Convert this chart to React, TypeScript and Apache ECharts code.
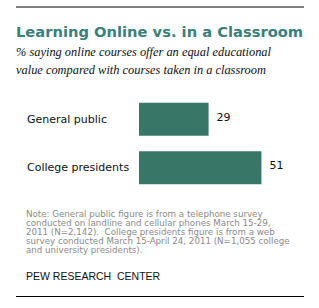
import React, { useEffect, useRef } from "react";
import * as echarts from "echarts";

const categories = ["General public", "College presidents"];
const values = [29, 51];
const titleText = "Learning Online vs. in a Classroom";
const subtitleLines = [
  "% saying online courses offer an equal educational",
  "value compared with courses taken in a classroom",
];
const noteLines = [
  "Note: General public figure is from a telephone survey",
  "conducted on landline and cellular phones March 15-29,",
  "2011 (N=2,142).  College presidents figure is from a web",
  "survey conducted March 15-April 24, 2011 (N=1,055 college",
  "and university presidents).",
];
const sourceText = "PEW RESEARCH  CENTER";

export default function App() {
  const ref = useRef<HTMLDivElement>(null);
  useEffect(() => {
    if (!ref.current) return;
    const chart = echarts.init(ref.current, null, { renderer: "svg" });
    chart.setOption({
      animation: false,
      backgroundColor: "#ffffff",
      grid: { left: 139, top: 95, height: 97, width: 144 },
      xAxis: {
        type: "value",
        min: 0,
        max: 60,
        show: false,
      },
      yAxis: {
        type: "category",
        data: categories,
        inverse: true,
        axisLine: { show: false },
        axisTick: { show: false },
        axisLabel: {
          align: "left",
          margin: 112,
          color: "#111111",
          fontSize: 11,
          fontFamily: '"DejaVu Sans", Verdana, sans-serif',
        },
      },
      series: [
        {
          type: "bar",
          data: values,
          barWidth: 33,
          itemStyle: { color: "#387767" },
          label: {
            show: true,
            position: "right",
            distance: 8,
            offset: [0, -2],
            color: "#111111",
            fontSize: 11,
            fontFamily: '"DejaVu Sans", Verdana, sans-serif',
          },
        },
      ],
      graphic: [
        { type: "line", shape: { x1: 16, y1: 7, x2: 304, y2: 7 }, style: { stroke: "#000", lineWidth: 1 } },
        {
          type: "text",
          x: 16,
          y: 31,
          style: {
            text: titleText,
            fill: "#3a7f7c",
            verticalAlign: "middle",
            font: 'bold 14.7px "DejaVu Sans", Verdana, sans-serif',
          },
        },
        {
          type: "text",
          x: 16,
          y: 43,
          style: {
            text: subtitleLines.join("\n"),
            fill: "#111111",
            verticalAlign: "top",
            lineHeight: 18,
            font: 'italic 12.4px "Liberation Serif", Georgia, serif',
          },
        },
        {
          type: "text",
          x: 26,
          y: 209.5,
          style: {
            text: noteLines.join("\n"),
            fill: "#8a8a8a",
            verticalAlign: "top",
            lineHeight: 9,
            font: '8.7px "DejaVu Sans", Verdana, sans-serif',
          },
        },
        {
          type: "text",
          x: 26,
          y: 275.5,
          style: {
            text: sourceText,
            fill: "#111111",
            verticalAlign: "middle",
            font: '10.5px "Liberation Sans", Arial, sans-serif',
          },
        },
        { type: "line", shape: { x1: 16, y1: 296.5, x2: 304, y2: 296.5 }, style: { stroke: "#000", lineWidth: 1 } },
      ],
    });
    return () => chart.dispose();
  }, []);
  return <div ref={ref} style={{ width: 319, height: 308, position: "absolute", left: 0, top: 0 }} />;
}
